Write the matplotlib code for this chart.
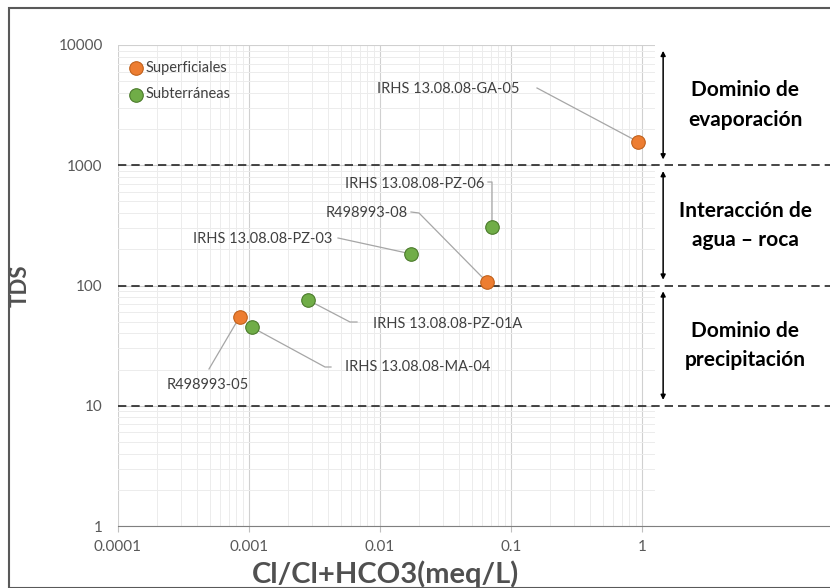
import matplotlib.pyplot as plt
from matplotlib.patches import Rectangle

plt.rcParams['font.family'] = ['Lato', 'DejaVu Sans']

# data
sup_names = ['R498993-05', 'R498993-08', 'IRHS 13.08.08-GA-05']
sup_x = [0.00085, 0.066, 0.93]
sup_y = [55, 106, 1570]

sub_names = ['IRHS 13.08.08-MA-04', 'IRHS 13.08.08-PZ-01A', 'IRHS 13.08.08-PZ-03', 'IRHS 13.08.08-PZ-06']
sub_x = [0.00105, 0.0028, 0.0173, 0.0716]
sub_y = [45, 76, 183, 305]

limits = [1000, 100, 10]
zones = ['Dominio de\nevaporación', 'Interacción de\nagua – roca', 'Dominio de\nprecipitación']
zone_bounds = [(10000, 1000), (1000, 100), (100, 10)]

xticks = [0.0001, 0.001, 0.01, 0.1, 1]
xticklabels = ['0.0001', '0.001', '0.01', '0.1', '1']
yticks = [1, 10, 100, 1000, 10000]

W, H = 830, 588
L, T, R, B = 118, 45, 830, 526
DEC_X = 131.0
DEC_Y = (B - T) / 4.0


def to_data(px, py):
    # pixel position -> data coordinates (for label placement only)
    return 10 ** (-4 + (px - L) / DEC_X), 10 ** (4 - (py - T) / DEC_Y)


# label layout in pixels: text left x, text y, leader start points
label_layout = {
    'IRHS 13.08.08-GA-05': (377, 89, [(537, 88)]),
    'IRHS 13.08.08-PZ-06': (345, 184, [(488, 182), (492, 182), (492, 218)]),
    'R498993-08': (326, 213, [(411, 212), (419, 213)]),
    'IRHS 13.08.08-PZ-03': (193, 239, [(338, 238)]),
    'IRHS 13.08.08-PZ-01A': (373, 324, [(357, 322), (350, 322)]),
    'IRHS 13.08.08-MA-04': (345, 367, [(331, 367), (325, 367)]),
    'R498993-05': (167, 385, [(209, 369)]),
}

fig = plt.figure(figsize=(W / 100, H / 100), dpi=100)
fig.patches.append(Rectangle((9 / W, 0), 1, 1 - 8 / H, transform=fig.transFigure,
                             fill=False, edgecolor='#595959', lw=1.5))
ax = fig.add_axes([L / W, 1 - B / H, (R - L) / W, (B - T) / H])
ax.set_xscale('log')
ax.set_yscale('log')
xmax = 10 ** (-4 + (R - L) / DEC_X)
ax.set_xlim(1e-4, xmax)
ax.set_ylim(1, 10000)

ax.grid(True, which='major', color='#d0d0d0', lw=0.8)
ax.grid(True, which='minor', color='#ececec', lw=0.7)
ax.set_axisbelow(True)
ax.add_patch(Rectangle((1.25, 1), xmax, 10000, facecolor='white', edgecolor='none', zorder=0.9))

for s in ['top', 'right', 'left']:
    ax.spines[s].set_visible(False)
ax.spines['bottom'].set_color('#7f7f7f')
ax.tick_params(axis='both', which='both', length=0, colors='#595959', labelsize=11)
ax.tick_params(axis='x', which='major', length=4, color='#bfbfbf', pad=6)
ax.set_xticks(xticks)
ax.set_xticklabels(xticklabels)
ax.set_yticks(yticks)
ax.set_yticklabels([str(v) for v in yticks])
ax.tick_params(axis='y', pad=11)

for lim in limits:
    ax.axhline(lim, color='#262626', ls=(0, (5, 3)), lw=1.2, zorder=2)

ax.scatter(sup_x, sup_y, s=95, color='#ED7D31', edgecolors='#c0601a', lw=0.8, zorder=5, label='Superficiales')
ax.scatter(sub_x, sub_y, s=95, color='#70AD47', edgecolors='#4a7a2a', lw=0.8, zorder=5, label='Subterráneas')

pts = dict(zip(sup_names, zip(sup_x, sup_y)))
pts.update(dict(zip(sub_names, zip(sub_x, sub_y))))
for name, (tx, ty, path) in label_layout.items():
    ax.text(*to_data(tx, ty), name, ha='left', va='center', fontsize=10.5, color='#404040', zorder=6)
    xs = [to_data(*p)[0] for p in path] + [pts[name][0]]
    ys = [to_data(*p)[1] for p in path] + [pts[name][1]]
    ax.plot(xs, ys, color='#a6a6a6', lw=0.9, zorder=4)

for (top, bot), txt in zip(zone_bounds, zones):
    ax.annotate('', xy=(1.45, bot * 1.06), xytext=(1.45, top / 1.06),
                arrowprops=dict(arrowstyle='<|-|>', color='black', lw=1.1, mutation_scale=7), zorder=6)
    ymid = (top * bot) ** 0.5
    ax.text(to_data(745, 0)[0], ymid, txt, ha='center', va='center', fontsize=15, fontweight='bold',
            color='black', linespacing=1.6, zorder=6)

leg = ax.legend(loc='upper left', bbox_to_anchor=(0.0, 0.985), frameon=False, fontsize=10.5,
                handletextpad=0.0, labelspacing=0.85, borderaxespad=0.2, scatterpoints=1,
                handlelength=1.3)
for t in leg.get_texts():
    t.set_color('#404040')

ax.set_ylabel('TDS', fontsize=16, fontweight='bold', color='#505050')
ax.yaxis.set_label_coords((31 - L) / (R - L), 0.5)
ax.set_xlabel('Cl/Cl+HCO3(meq/L)', fontsize=21, fontweight='bold', color='#505050')
ax.xaxis.set_label_coords((385 - L) / (R - L), -(574 - B) / (B - T))
ax.xaxis.label.set_va('center')

fig.savefig('out.png', dpi=100)
